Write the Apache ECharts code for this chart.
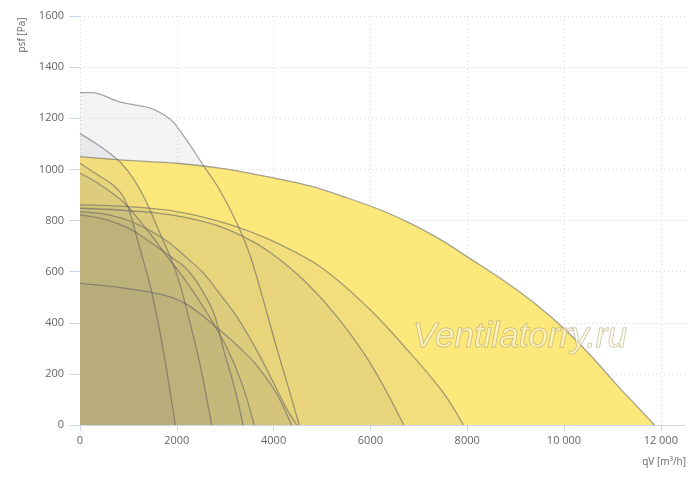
<!DOCTYPE html>
<html>
<head>
<meta charset="utf-8">
<script src="https://cdn.jsdelivr.net/npm/echarts@6/dist/echarts.min.js"></script>
<style>
html,body{margin:0;padding:0;background:#fff;}
#chart{width:700px;height:477px;}
</style>
</head>
<body>
<div id="chart"></div>
<script>
// Fan curves: [airflow qV m3/h, static pressure psf Pa]
const curveGray1300 = [[0,1300],[250,1300],[800,1265],[1450,1240],[1750,1212],[1950,1180],[2200,1115],[2550,1015],[2900,915],[3240,790],[3520,660],[3800,480],[4050,310],[4300,150],[4530,0]];
const curveYellow1050 = [[0,1050],[1000,1035],[2000,1024],[3000,1002],[3500,985],[4000,967],[4750,935],[5500,890],[6200,842],[6828,789],[7450,725],[8069,650],[8700,572],[9400,475],[10070,365],[10600,262],[11100,155],[11500,75],[11870,0]];
const curve1140 = [[0,1140],[300,1105],[600,1065],[850,1025],[1100,965],[1340,885],[1620,765],[1850,665],[2050,560],[2300,380],[2500,220],[2720,0]];
const curve1024 = [[0,1024],[370,978],[720,933],[920,885],[1060,815],[1180,730],[1300,650],[1480,522],[1720,293],[1970,0]];
const curve985 = [[0,985],[370,946],[850,880],[1100,830],[1400,760],[1800,660],[2200,560],[2620,440],[3040,300],[3350,160],[3600,0]];
const curve861 = [[0,861],[1000,854],[2000,835],[3000,790],[3931,724],[4966,619],[6000,450],[6828,280],[7517,124],[7920,0]];
const curve848 = [[0,848],[1655,828],[2690,789],[3379,737],[3931,675],[4621,567],[5310,424],[6000,241],[6690,0]];
const curve835 = [[0,835],[500,825],[1000,800],[1500,755],[1860,711],[2200,655],[2550,594],[2900,510],[3240,424],[3650,293],[4000,165],[4250,70],[4480,0]];
const curve822 = [[0,822],[500,805],[1000,770],[1400,722],[1860,660],[2150,620],[2414,560],[2760,440],[2970,293],[3200,140],[3370,0]];
const curve554 = [[0,554],[500,545],[1000,533],[1450,520],[1850,502],[2207,472],[2500,432],[2800,385],[3050,345],[3310,300],[3600,245],[3862,180],[4100,110],[4370,0]];

const xTicks = [0, 2000, 4000, 6000, 8000, 10000, 12000];
const yTicks = [0, 200, 400, 600, 800, 1000, 1200, 1400, 1600];
const xAxisName = 'qV [m³/h]';
const yAxisName = 'psf [Pa]';
const watermark = 'Ventilatorry.ru';

const lineCol = 'rgba(95,95,100,0.55)';
const overlay = 'rgba(110,110,125,0.08)';

function curveSeries(data, fill, opacity) {
  return {
    type: 'line',
    data: data,
    smooth: 0.35,
    showSymbol: false,
    symbol: 'none',
    silent: true,
    lineStyle: { color: lineCol, width: 1.3 },
    areaStyle: { color: fill, opacity: opacity },
    emphasis: { disabled: true }
  };
}

const chart = echarts.init(document.getElementById('chart'), null, { renderer: 'canvas' });
chart.setOption({
  animation: false,
  backgroundColor: '#fff',
  textStyle: { fontFamily: 'Open Sans' },
  grid: { left: 80, right: 15, top: 16, bottom: 52, containLabel: false },
  xAxis: {
    type: 'value',
    min: 0, max: 12500, interval: 2000,
    axisLine: { show: true, lineStyle: { color: '#ccd6eb', width: 1 } },
    axisTick: { show: true, length: 6, lineStyle: { color: '#ccd6eb' } },
    axisLabel: {
      color: '#666', fontSize: 11, margin: 10, fontFamily: 'Open Sans',
      showMaxLabel: false,
      formatter: function (v) {
        if (xTicks.indexOf(v) < 0) return '';
        return v >= 10000 ? String(v).replace(/(\d)(?=(\d{3})+$)/g, '$1 ') : String(v);
      }
    },
    splitLine: { show: true, showMaxLine: false, lineStyle: { color: '#d8d8d8', type: [1, 3], width: 1 } }
  },
  yAxis: {
    type: 'value',
    min: yTicks[0], max: yTicks[yTicks.length - 1], interval: 200,
    axisLine: { show: false },
    axisTick: { show: true, length: 11, lineStyle: { color: '#ccd6eb' } },
    axisLabel: { color: '#666', fontSize: 11, margin: 16, fontFamily: 'Open Sans', formatter: function (v) { return String(v); } },
    splitLine: { show: true, lineStyle: { color: '#d8d8d8', type: [1, 3], width: 1 } }
  },
  graphic: [
    {
      type: 'text', x: 22, y: 35, rotation: Math.PI / 2,
      style: { text: yAxisName, fill: '#666', font: '10px "Open Sans"', textAlign: 'center', textVerticalAlign: 'middle' }
    },
    {
      type: 'text', x: 686, y: 462,
      style: { text: xAxisName, fill: '#666', font: '10px "Open Sans"', textAlign: 'right', textVerticalAlign: 'middle' }
    },
    {
      type: 'text', x: 520, y: 337, z: 100,
      style: {
        text: watermark, font: 'italic 35px "Liberation Sans"',
        fill: 'rgba(255,252,228,0.55)', stroke: 'rgba(150,140,95,0.6)', lineWidth: 1,
        textAlign: 'center', textVerticalAlign: 'middle'
      }
    }
  ],
  series: [
    curveSeries(curveGray1300, overlay, 1),
    curveSeries(curveYellow1050, 'rgb(253,228,102)', 0.86),
    curveSeries(curve1140, overlay, 1),
    curveSeries(curve1024, overlay, 1),
    curveSeries(curve985, overlay, 1),
    curveSeries(curve861, overlay, 1),
    curveSeries(curve848, overlay, 1),
    curveSeries(curve835, overlay, 1),
    curveSeries(curve822, overlay, 1),
    curveSeries(curve554, overlay, 1)
  ]
});
</script>
</body>
</html>
